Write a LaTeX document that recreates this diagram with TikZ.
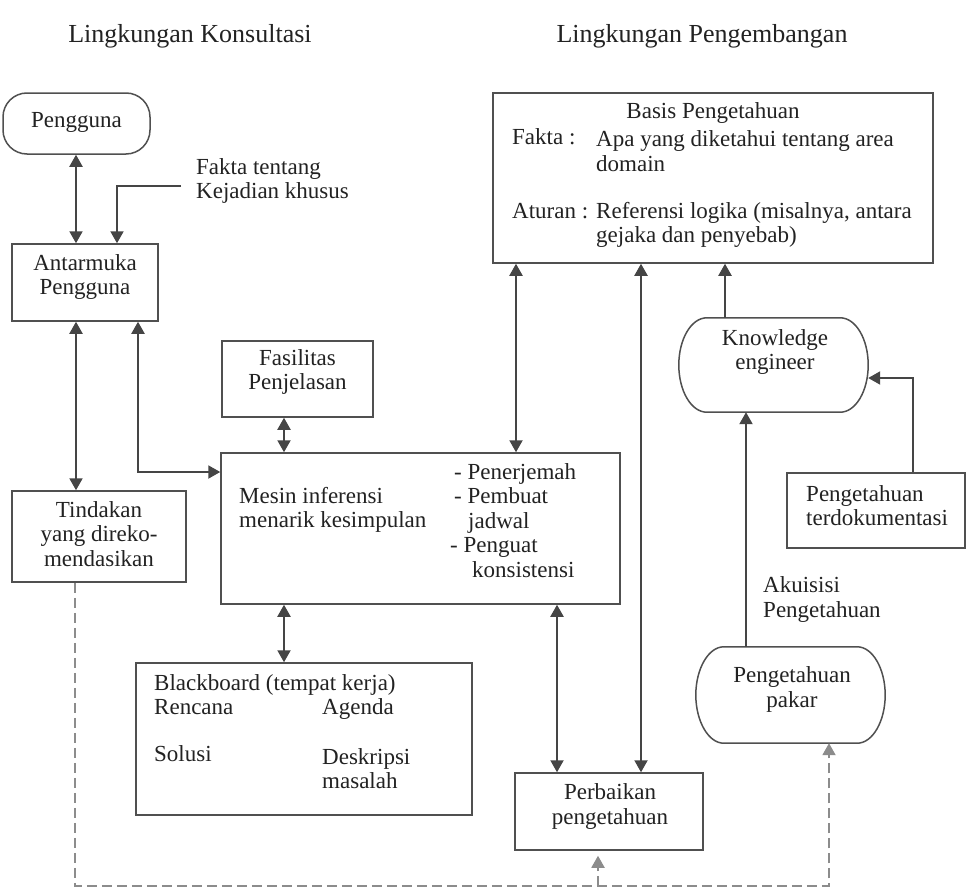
\documentclass[tikz,border=0pt]{standalone}
\usepackage{fontspec}
\setmainfont{Liberation Serif}
\usetikzlibrary{arrows.meta,calc}
\definecolor{lc}{HTML}{454545}
\definecolor{bc}{HTML}{505050}
\definecolor{dc}{HTML}{8C8C8C}
\definecolor{tc}{HTML}{222222}
\newcommand{\barrelpath}[1]{%
  \draw[bord] ([xshift=28pt]#1.north west) -- ([xshift=-28pt]#1.north east)
    .. controls ([xshift=-12.5pt]#1.north east) and ([yshift=26pt]#1.east) .. (#1.east)
    .. controls ([yshift=-26pt]#1.east) and ([xshift=-12.5pt]#1.south east) .. ([xshift=-28pt]#1.south east)
    -- ([xshift=28pt]#1.south west)
    .. controls ([xshift=12.5pt]#1.south west) and ([yshift=-26pt]#1.west) .. (#1.west)
    .. controls ([yshift=26pt]#1.west) and ([xshift=12.5pt]#1.north west) .. cycle;}
\begin{document}
\begin{tikzpicture}[x=1pt,y=-1pt,
  every node/.style={font=\fontsize{23}{24.5}\selectfont, text=tc, inner sep=0pt},
  bord/.style={draw=bc, line width=1.5pt},
  box/.style={bord},
  lbl/.style={align=left},
  ctr/.style={align=center},
  one/.style={text height=16pt, text depth=5pt},
  arr/.style={draw=lc, line width=2pt},
  dsh/.style={draw=dc, line width=1.9pt, dash pattern=on 10pt off 5pt},
  >={Triangle[length=12pt,width=13pt]}]
\useasboundingbox (0,0) rectangle (968,891);
\fill[white] (0,0) rectangle (968,891);

% titles
\node[one, font=\fontsize{26}{28}\selectfont] (t1) at (190,37) {Lingkungan Konsultasi};
\node[one, font=\fontsize{26}{28}\selectfont] (t2) at (702,37) {Lingkungan Pengembangan};

% consultation side
\node[box, minimum width=147pt, minimum height=61pt, rounded corners=24pt] (pengguna) at (76.5,123.5) {};
\node[one] (penggunatxt) at (76.5,122) {Pengguna};

\node[lbl, anchor=west] (fakta) at (196,181) {Fakta tentang\\Kejadian khusus};
\coordinate (faktaend) at (181,186);

\node[box, minimum width=146pt, minimum height=77pt] (antarmuka) at (85,282.5) {};
\node[ctr] (antarmukatxt) at (85,277) {Antarmuka\\Pengguna};

\node[box, minimum width=174pt, minimum height=91pt] (tindakan) at (99,536.5) {};
\node[ctr] (tindakantxt) at (99,534) {Tindakan\\yang direko-\\mendasikan};

\node[box, minimum width=151pt, minimum height=76pt] (fasilitas) at (297.5,379) {};
\node[ctr] (fasilitastxt) at (297.5,372) {Fasilitas\\Penjelasan};

\node[box, minimum width=399pt, minimum height=151pt] (mesin) at (420.5,528.5) {};
\node[lbl, anchor=west] (mesintxt) at (239,510) {Mesin inferensi\\menarik kesimpulan};
\node[lbl, anchor=west] (mesinlist) at (450,520.5)
  {\hspace*{4pt}- Penerjemah\\\hspace*{4pt}- Pembuat\\\hspace*{18pt}jadwal\\- Penguat\\\hspace*{22pt}konsistensi};

\node[box, minimum width=336pt, minimum height=152pt] (blackboard) at (304,739) {};
\node[one, anchor=west] (bbtitle) at (154,685) {Blackboard (tempat kerja)};
\node[one, anchor=west] (rencana) at (154,709) {Rencana};
\node[one, anchor=west] (agenda) at (322,709) {Agenda};
\node[one, anchor=west] (solusi) at (154,756) {Solusi};
\node[lbl, anchor=west] (deskripsi) at (322,768.5) {Deskripsi\\masalah};

% development side
\node[box, minimum width=440pt, minimum height=170pt] (basis) at (713,178) {};
\node[one] (basistitle) at (713,113) {Basis Pengetahuan};
\node[one, anchor=west] (faktalbl) at (512,139) {Fakta :};
\node[lbl, anchor=west] (faktatxt) at (596,151) {Apa yang diketahui tentang area\\domain};
\node[one, anchor=west] (aturanlbl) at (512,213) {Aturan :};
\node[lbl, anchor=west] (aturantxt) at (596,225) {Referensi logika (misalnya, antara\\gejaka dan penyebab)};

\node[minimum width=189pt, minimum height=94pt] (ke) at (773.5,365) {};
\barrelpath{ke}
\node[ctr] (ketxt) at (775,352) {Knowledge\\engineer};

\node[box, minimum width=178pt, minimum height=75pt] (terdok) at (876,510.5) {};
\node[lbl, anchor=west] (terdoktxt) at (806,505.5) {Pengetahuan\\terdokumentasi};

\node[lbl, anchor=west] (akuisisi) at (763,599.5) {Akuisisi\\Pengetahuan};

\node[minimum width=189pt, minimum height=96pt] (pakar) at (790.5,695) {};
\barrelpath{pakar}
\node[ctr] (pakartxt) at (792,689.5) {Pengetahuan\\pakar};

\node[box, minimum width=188pt, minimum height=77pt] (perbaikan) at (609,811.5) {};
\node[ctr] (perbaikantxt) at (610,806.5) {Perbaikan\\pengetahuan};

% connectors
\draw[arr,<->] ([xshift=-0.5pt]pengguna.south) -- ([xshift=-0.5pt]pengguna.south |- antarmuka.north);
\draw[arr,->] (faktaend) -| ([xshift=32pt]antarmuka.north);
\draw[arr,<->] ([xshift=-9pt]antarmuka.south) -- ([xshift=-9pt]antarmuka.south |- tindakan.north);
\draw[arr,<->] ([xshift=53pt]antarmuka.south) |- ([yshift=56.5pt]mesin.west);
\draw[arr,<->] ([xshift=-13.5pt]fasilitas.south) -- ([xshift=-13.5pt]fasilitas.south |- mesin.north);
\draw[arr,<->] ([xshift=-20pt]blackboard.north |- mesin.south) -- ([xshift=-20pt]blackboard.north);
\draw[arr,<->] ([xshift=-52pt]perbaikan.north |- mesin.south) -- ([xshift=-52pt]perbaikan.north);
\draw[arr,<->] ([xshift=32pt]perbaikan.north |- basis.south) -- ([xshift=32pt]perbaikan.north);
\draw[arr,<->] ([xshift=-197pt]basis.south) -- ([xshift=-197pt]basis.south |- mesin.north);
\draw[arr,->] ([xshift=-48.5pt]ke.north) -- ([xshift=-48.5pt]ke.north |- basis.south);
\draw[arr,->] ([xshift=-44.5pt]pakar.north) -- ([xshift=-44.5pt]pakar.north |- ke.south);
\draw[arr,->] ([xshift=37pt]terdok.north) |- ([yshift=-13pt]ke.east);

% dashed feedback
\coordinate (dashy) at (0,886);
\draw[dsh,->] ([xshift=-24pt]tindakan.south) -- ([xshift=-24pt]tindakan.south |- dashy)
  -- ([xshift=38.5pt]pakar.south |- dashy) -- ([xshift=38.5pt]pakar.south);
\draw[dsh,->] ([xshift=-11pt]perbaikan.south |- dashy) -- ([xshift=-11pt,yshift=-5pt]perbaikan.south);
\end{tikzpicture}
\end{document}
